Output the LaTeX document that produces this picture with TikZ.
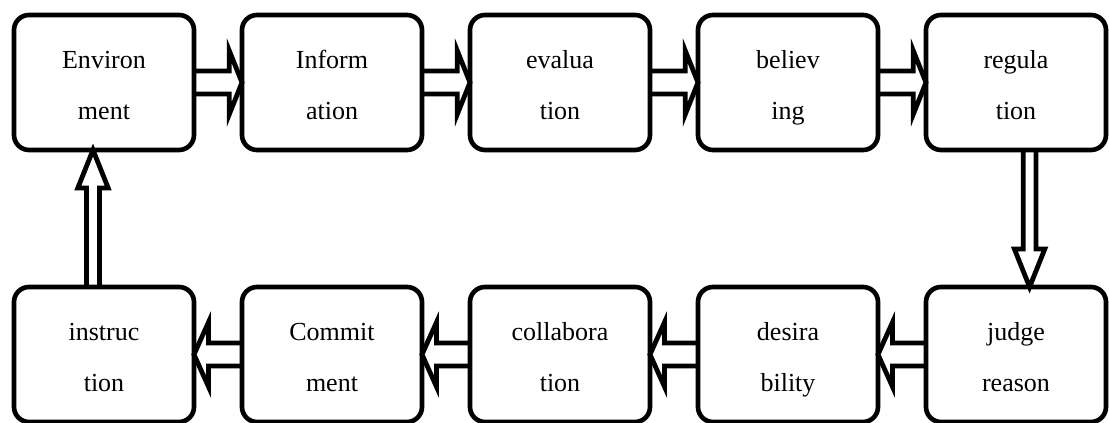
\documentclass[tikz,border=0pt]{standalone}
\usepackage{fontspec}
\setmainfont{Liberation Serif}
\usetikzlibrary{positioning,calc}

\tikzstyle{stage}    = [rectangle, draw, line width=3.3pt, rounded corners=0.375cm,
                        minimum width=4.5cm, minimum height=3.375cm, outer sep=0pt,
                        align=center, text height=52pt, text depth=0pt,
                        font=\fontsize{18.5}{36}\selectfont]
\tikzstyle{flowline} = [line width=3.4pt, miter limit=20]

% hollow double arrow: tail, tip, half shaft, half head, head length
\newcommand{\flow}[5]{%
  \coordinate (hb) at ($(#2)!#5!(#1)$);
  \draw[flowline] ($(#1)!#3!90:(#2)$) -- ($(hb)!#3!-90:(#1)$)
    -- ($(hb)!#4!-90:(#1)$) -- (#2) -- ($(hb)!#4!90:(#1)$)
    -- ($(hb)!#3!90:(#1)$) -- ($(#1)!#3!-90:(#2)$);
}

\begin{document}
\begin{tikzpicture}
\useasboundingbox (0,0) rectangle (27.725,-10.575);

% upper row, left to right
\node[stage] (env) at (2.6,-2.0625) {Environ\\ment};
\node[stage, right=1.2cm of env]    (info)   {Inform\\ation};
\node[stage, right=1.2cm of info]   (eval)   {evalua\\tion};
\node[stage, right=1.2cm of eval]   (belief) {believ\\ing};
\node[stage, right=1.2cm of belief] (reg)    {regula\\tion};

% lower row, right to left
\node[stage, below=3.425cm of reg]  (judge)  {judge\\reason};
\node[stage, left=1.2cm of judge]   (desire) {desira\\bility};
\node[stage, left=1.2cm of desire]  (collab) {collabora\\tion};
\node[stage, left=1.2cm of collab]  (commit) {Commit\\ment};
\node[stage, left=1.2cm of commit]  (instr)  {instruc\\tion};

\flow{env.east}{info.west}{0.29cm}{0.8cm}{0.32cm}
\flow{info.east}{eval.west}{0.29cm}{0.8cm}{0.32cm}
\flow{eval.east}{belief.west}{0.29cm}{0.8cm}{0.32cm}
\flow{belief.east}{reg.west}{0.29cm}{0.8cm}{0.32cm}

\coordinate (down1) at ([xshift=0.34cm]reg.south);
\coordinate (down2) at ([xshift=0.34cm]judge.north);
\flow{down1}{down2}{0.16cm}{0.38cm}{0.95cm}

\flow{judge.west}{desire.east}{0.29cm}{0.8cm}{0.36cm}
\flow{desire.west}{collab.east}{0.29cm}{0.8cm}{0.36cm}
\flow{collab.west}{commit.east}{0.29cm}{0.8cm}{0.36cm}
\flow{commit.west}{instr.east}{0.29cm}{0.8cm}{0.36cm}

\coordinate (up1) at ([xshift=-0.275cm]instr.north);
\coordinate (up2) at ([xshift=-0.275cm]env.south);
\flow{up1}{up2}{0.16cm}{0.38cm}{0.95cm}
\end{tikzpicture}
\end{document}
